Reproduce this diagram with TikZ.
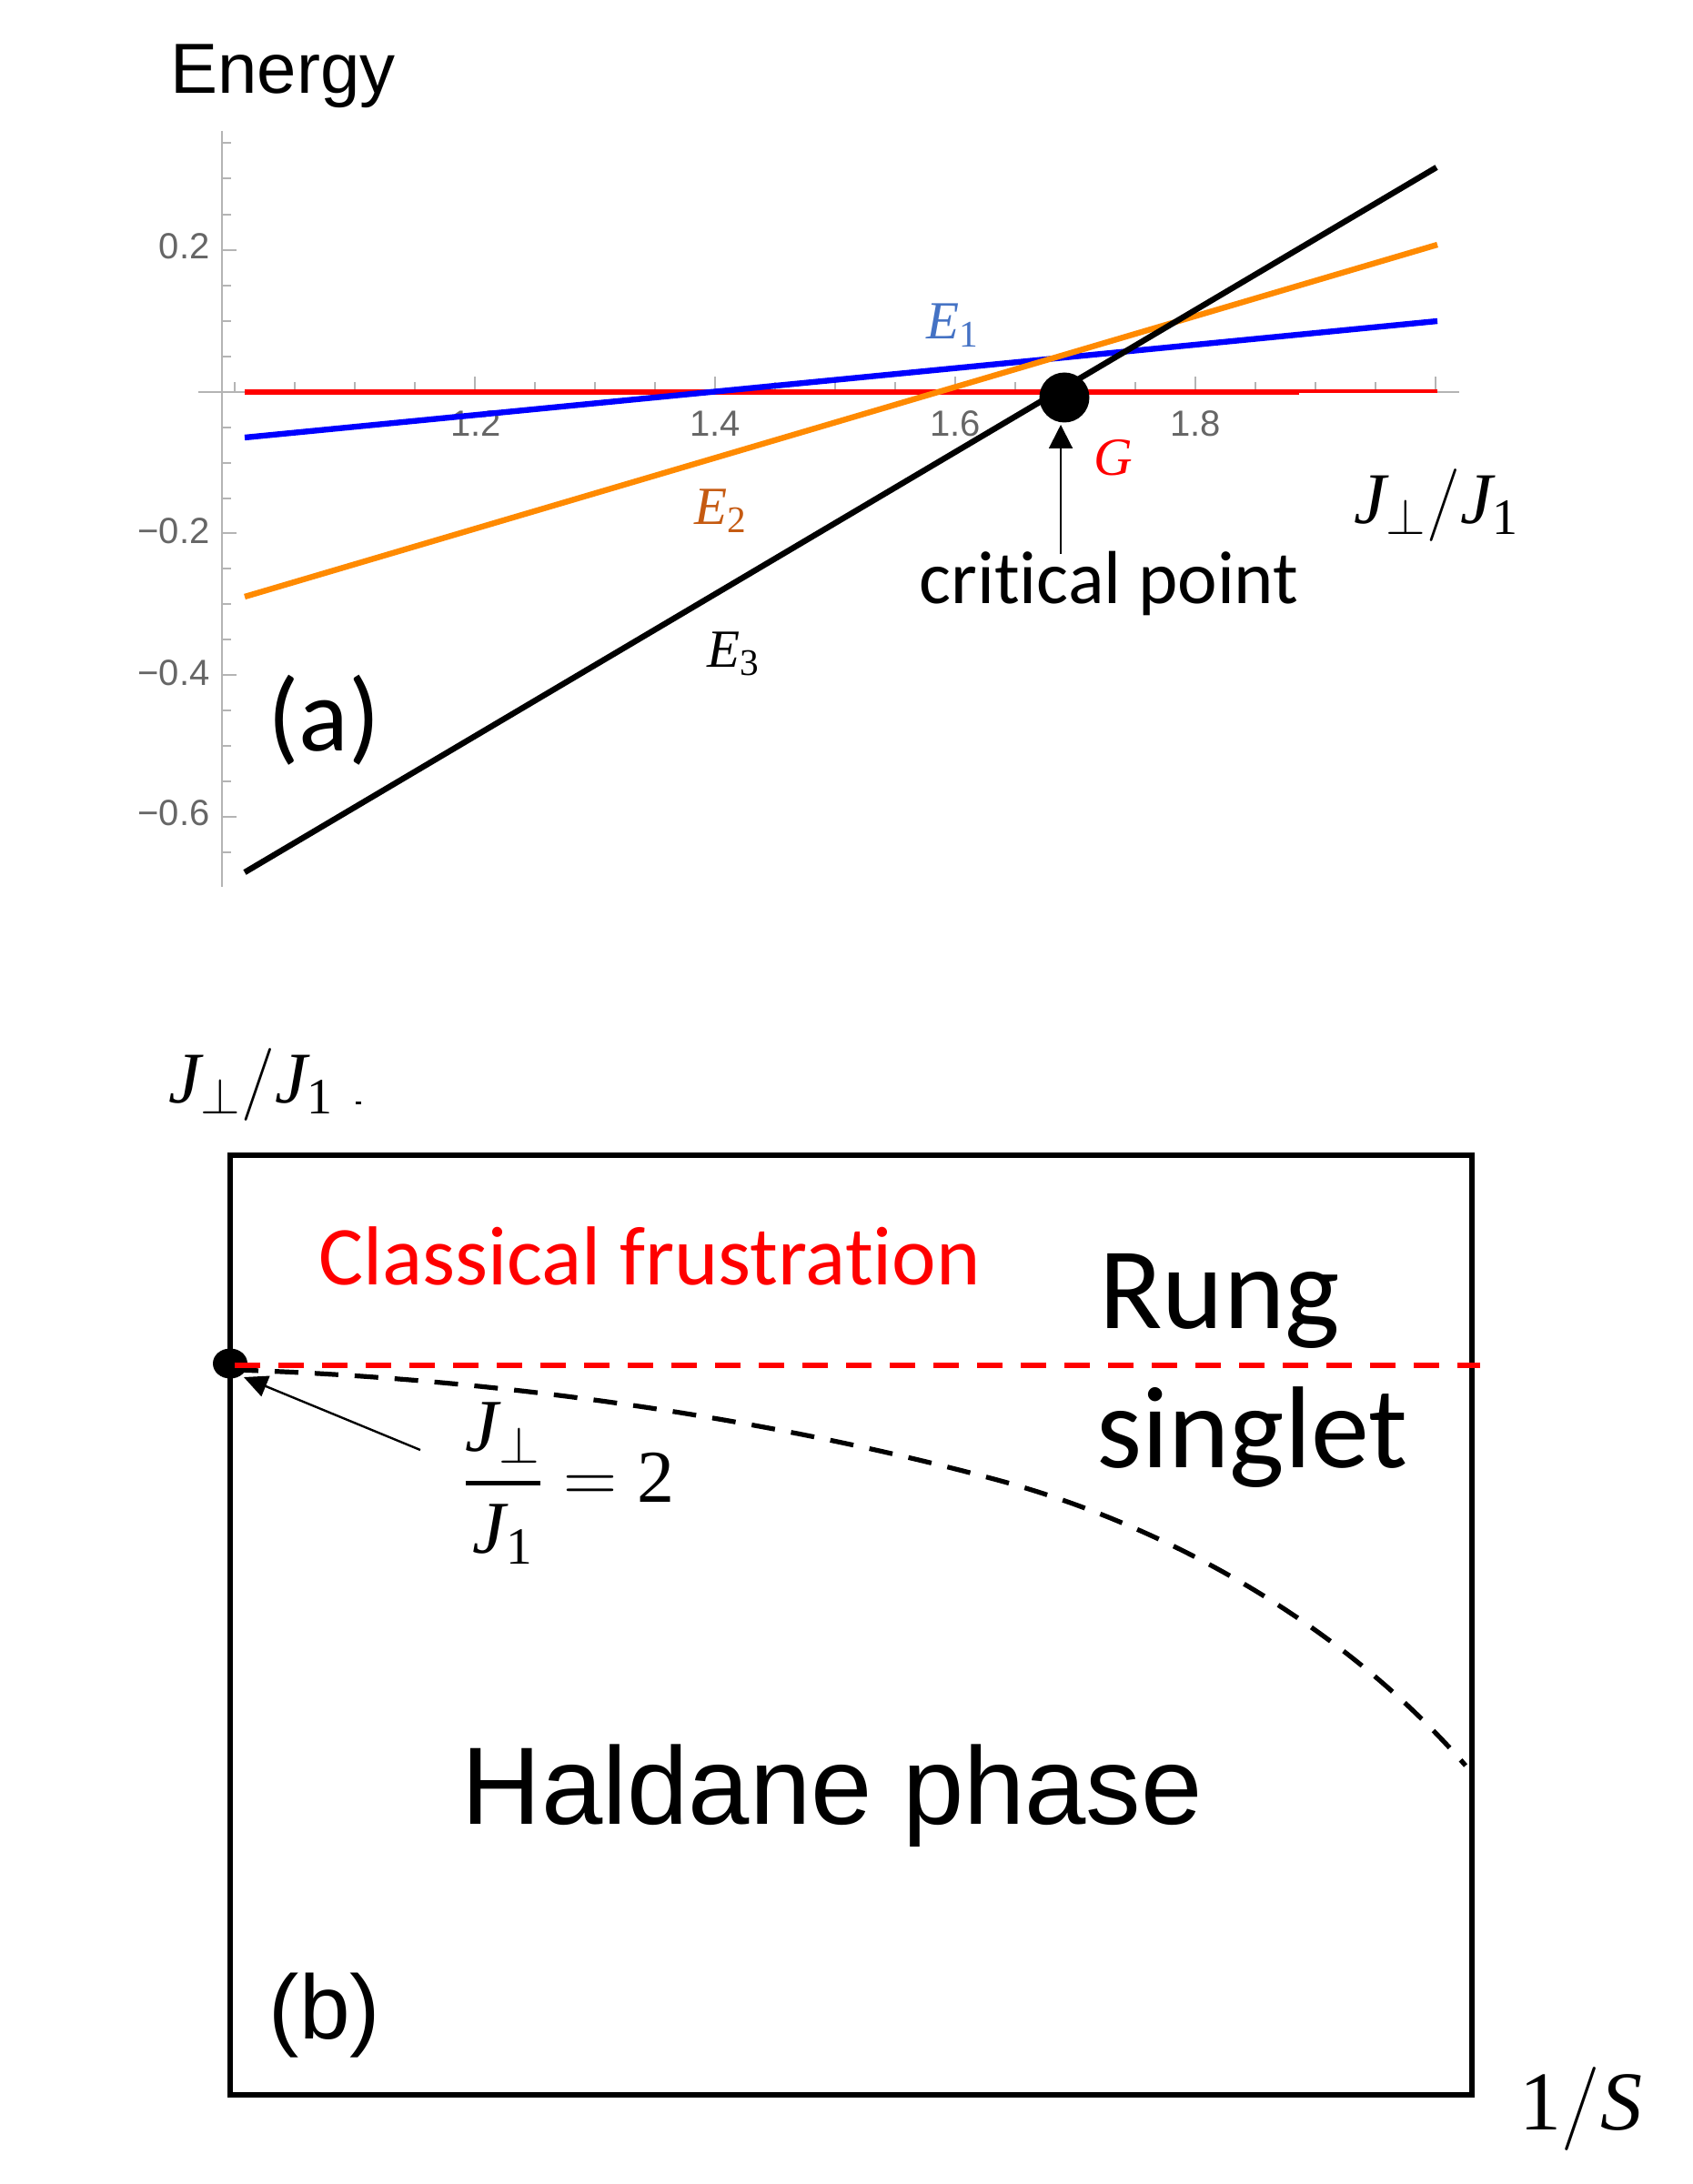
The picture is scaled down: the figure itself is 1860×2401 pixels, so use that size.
\documentclass[tikz,border=0pt]{standalone}
\usepackage{fix-cm}
\usepackage{amsmath}
\usepackage{fontspec}
\setmainfont{Carlito}[Ligatures=NoCommon]
\newfontfamily\arl{Liberation Sans}
\newfontfamily\sermath{Liberation Serif}
\usetikzlibrary{arrows.meta,shapes.geometric}
\definecolor{tick}{HTML}{B4B4B4}
\definecolor{ticktext}{HTML}{666666}
\definecolor{plotorange}{HTML}{FF8A00}
\definecolor{eone}{HTML}{4472C4}
\definecolor{etwo}{HTML}{C55A11}
\tikzset{
  x=0.5pt,y=-0.5pt,
  curve/.style={line width=3.2pt},
  ticklab/.style={font=\arl\fontsize{20}{20}\selectfont,text=ticktext,inner sep=0pt},
  lab/.style={inner sep=0pt},
  axisline/.style={draw=tick,line width=0.7pt},
  thinarrow/.style={line width=1pt,-{Triangle[length=13pt,width=13pt]}},
}
\newcommand{\fs}[1]{\fontsize{#1}{#1}\selectfont}
\newcommand{\mv}[1]{\text{\sermath\itshape #1}}
\newcommand{\mn}[1]{\text{\sermath #1}}
\begin{document}
\begin{tikzpicture}
\useasboundingbox (0,0) rectangle (1860,2401);
% axes
\draw[axisline] (244,144) -- (244,975);
\draw[axisline] (218,431) -- (1604,431);
\foreach \y in {157,196,236,314,353,392,470,509,548,625,664,703,781,820,859,937}
  \draw[axisline] (244,\y) -- (254,\y);
\foreach \y in {275,586,742,898}
  \draw[axisline] (244,\y) -- (260,\y);
\foreach \x in {258,324,390,456,588,654,720,852,918,984,1116,1182,1248,1380,1446,1512}
  \draw[axisline] (\x,431) -- (\x,420);
\foreach \x in {522,786,1050,1314,1578}
  \draw[axisline] (\x,431) -- (\x,414);
\node[ticklab,anchor=east] (t02) at (231,271) {0.2};
\node[ticklab,anchor=east] (tm2) at (231,584) {−0.2};
\node[ticklab,anchor=east] (tm4) at (231,740) {−0.4};
\node[ticklab,anchor=east] (tm6) at (231,894) {−0.6};
\node[ticklab] (x12) at (523,466) {1.2};
\node[ticklab] (x14) at (786,466) {1.4};
\node[ticklab] (x16) at (1050,466) {1.6};
\node[ticklab] (x18) at (1314,466) {1.8};
% curves
\draw[red,line width=3.2pt] (269,431) -- (1428,431);
\draw[red,line width=1.8pt] (1428,430) -- (1580,430);
\draw[blue,curve] (269,481) -- (1580,353);
\draw[plotorange,curve] (269,656) -- (1580,269);
\draw[black,curve] (269,959) -- (1579,184);
\node[circle,fill=black,minimum width=27.5pt,inner sep=0pt] (crit) at (1170,437) {};
\node[lab] (critlab) at (1219,641) {\fs{41.3}critical point};
\draw[thinarrow] (1166,609) -- (1166,467);
% labels
\node[lab,text=eone] (e1) at (1047,358) {\fs{29.5}$\mv{E}_{\mn{1}}$};
\node[lab,text=etwo] (e2) at (792,562) {\fs{29.5}$\mv{E}_{\mn{2}}$};
\node[lab] (e3) at (806,719) {\fs{29.5}$\mv{E}_{\mn{3}}$};
\node[lab,text=red] (g) at (1224,503) {\fs{29.5}$\mv{G}$};
\node[lab] (xl) at (1579,556) {\fs{40}$\mv{J}_\perp/\mv{J}_{\mn{1}}$};
\node[lab] (yl) at (276,1192) {\fs{40}$\mv{J}_\perp/\mv{J}_{\mn{1}}$};
\node[lab] (en) at (311,84) {\arl\fs{39}Energy};
\node[lab] (a) at (356,792) {\fs{57}(a)};
% panel b
\draw[black,line width=3.2pt] (253,1270) rectangle (1618,2303);
\node[fill=black,ellipse,minimum width=19pt,minimum height=16.5pt,inner sep=0pt] (cdot) at (253,1499) {};
\fill (391,1211) rectangle (397,1214);
\draw[black,line width=2.6pt,dash pattern=on 13pt off 9pt]
  (258,1506) .. controls (550,1515) and (850,1560) .. (1100,1628)
  .. controls (1290,1680) and (1480,1790) .. (1611,1941);
\draw[red,line width=3pt,dash pattern=on 14pt off 10pt] (258,1501) -- (1627,1501);
\draw[line width=1.2pt,-{Triangle[length=13pt,width=12pt]}] (462,1594) -- (268,1514);
\node[lab,anchor=west] (frac) at (509,1631) {\fs{41}$\genfrac{}{}{2.4pt}{0}{\mv{J}_\perp}{\mv{J}_{\mn{1}}}=\mn{2}$};
\node[lab,text=red] (cf) at (714,1381) {\fs{46}Classical frustration};
\node[lab,anchor=west] (r) at (1208,1430) {\fs{64}Rung};
\node[lab,anchor=west] (s) at (1205,1580) {\fs{64}singlet};
\node[lab] (h) at (915,1974) {\arl\fs{60.5}Haldane phase};
\node[lab] (b) at (357,2216) {\arl\fs{50}(b)};
\node[lab] (oneS) at (1738,2318) {\fs{46}$\mn{1}/\mv{S}$};
\end{tikzpicture}
\end{document}
